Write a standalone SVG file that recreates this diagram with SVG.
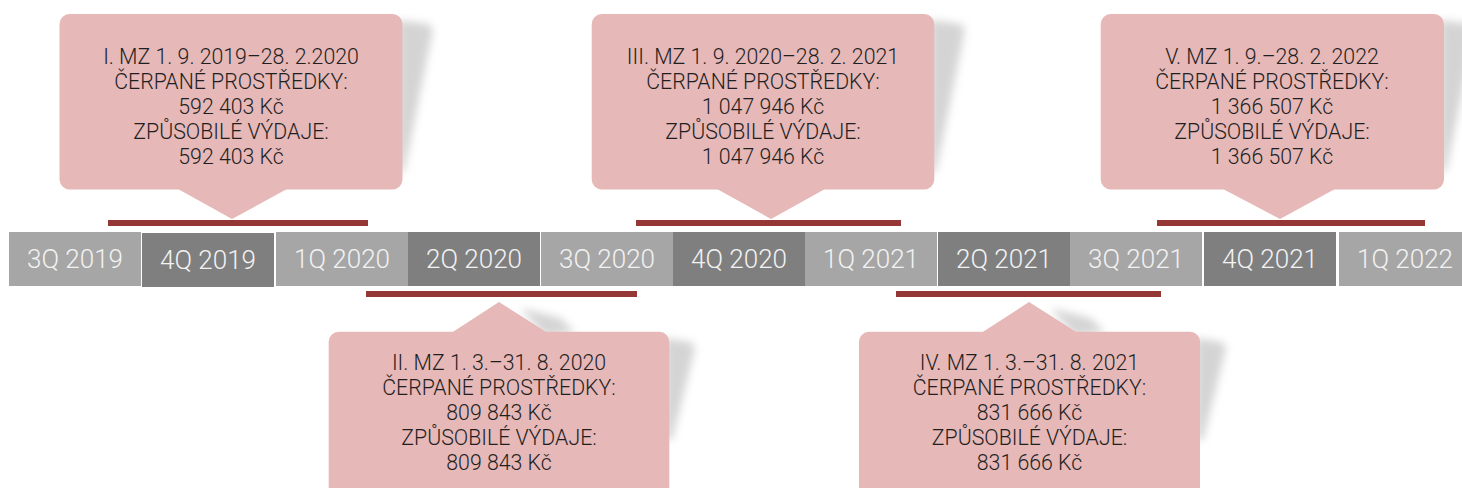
<svg xmlns="http://www.w3.org/2000/svg" width="1462" height="488" viewBox="0 0 1462 488">
<defs>
<style>
.bg{fill:#ffffff}
.q-light{fill:#a6a6a6}
.q-dark{fill:#7f7f7f}
.qt{font-family:Roboto,"Liberation Sans",sans-serif;font-weight:300;font-size:26px;fill:#f2f2f2;text-anchor:middle}
.bar{fill:#953735}
.call{fill:#e6b8b7}
.shadow{fill:#d4d4d4;filter:url(#blur)}
.ct{font-family:Roboto,"Liberation Sans",sans-serif;font-weight:300;font-size:21.3px;fill:#1f1f1f;text-anchor:middle}
</style>
<filter id="blur" x="-50%" y="-50%" width="200%" height="200%"><feGaussianBlur stdDeviation="4"/></filter>
</defs>
<rect class="bg" x="0" y="0" width="1462" height="488"/>

<g id="timeline">
<g id="q-3Q2019"><rect class="q-light" x="9" y="232" width="132" height="54"/><text class="qt" x="75" y="268">3Q 2019</text></g>
<g id="q-4Q2019"><rect class="q-dark" x="142" y="233" width="132" height="54"/><text class="qt" x="208" y="269">4Q 2019</text></g>
<g id="q-1Q2020"><rect class="q-light" x="276" y="232" width="132" height="54"/><text class="qt" x="342" y="268">1Q 2020</text></g>
<g id="q-2Q2020"><rect class="q-dark" x="408" y="232" width="132" height="54"/><text class="qt" x="474" y="268">2Q 2020</text></g>
<g id="q-3Q2020"><rect class="q-light" x="541" y="232" width="132" height="54"/><text class="qt" x="607" y="268">3Q 2020</text></g>
<g id="q-4Q2020"><rect class="q-dark" x="673" y="232" width="132" height="54"/><text class="qt" x="739" y="268">4Q 2020</text></g>
<g id="q-1Q2021"><rect class="q-light" x="805" y="232" width="132" height="54"/><text class="qt" x="871" y="268">1Q 2021</text></g>
<g id="q-2Q2021"><rect class="q-dark" x="938" y="232" width="132" height="54"/><text class="qt" x="1004" y="268">2Q 2021</text></g>
<g id="q-3Q2021"><rect class="q-light" x="1070" y="232" width="132" height="54"/><text class="qt" x="1136" y="268">3Q 2021</text></g>
<g id="q-4Q2021"><rect class="q-dark" x="1204" y="232" width="132" height="54"/><text class="qt" x="1270" y="268">4Q 2021</text></g>
<g id="q-1Q2022"><rect class="q-light" x="1339" y="232" width="132" height="54"/><text class="qt" x="1405" y="268">1Q 2022</text></g>
</g>

<g id="connectors">
<rect class="bar" x="108" y="220" width="260" height="6"/>
<rect class="bar" x="366" y="291" width="271" height="6"/>
<rect class="bar" x="636" y="220" width="265" height="6"/>
<rect class="bar" x="896" y="291" width="265" height="6"/>
<rect class="bar" x="1157" y="220" width="268" height="6"/>
</g>

<g id="callout-1">
<path class="shadow" d="M398,20 L428,24 Q434,26 432,34 L404,172 L398,172 Z"/>
<rect class="call" x="59.5" y="14" width="343" height="175.5" rx="10"/>
<polygon class="call" points="178,189 287,189 232,219"/>
<text class="ct" x="231" y="63.5">I. MZ 1. 9. 2019–28. 2.2020</text>
<text class="ct" x="231" y="88.5">ČERPANÉ PROSTŘEDKY:</text>
<text class="ct" x="231" y="113.5">592 403 Kč</text>
<text class="ct" x="231" y="138.5">ZPŮSOBILÉ VÝDAJE:</text>
<text class="ct" x="231" y="163.5">592 403 Kč</text>
</g>

<g id="callout-3">
<path class="shadow" d="M930,20 L960,24 Q966,26 964,34 L936,172 L930,172 Z"/>
<rect class="call" x="591.7" y="14" width="342.6" height="175.5" rx="10"/>
<polygon class="call" points="717,189 825,189 771,219"/>
<text class="ct" x="763" y="63.5">III. MZ 1. 9. 2020–28. 2. 2021</text>
<text class="ct" x="763" y="88.5">ČERPANÉ PROSTŘEDKY:</text>
<text class="ct" x="763" y="113.5">1 047 946 Kč</text>
<text class="ct" x="763" y="138.5">ZPŮSOBILÉ VÝDAJE:</text>
<text class="ct" x="763" y="163.5">1 047 946 Kč</text>
</g>

<g id="callout-5">
<path class="shadow" d="M1440,20 L1470,24 Q1476,26 1474,34 L1446,172 L1440,172 Z"/>
<rect class="call" x="1100.7" y="14" width="343.3" height="175.5" rx="10"/>
<polygon class="call" points="1223,189 1335,189 1280,219"/>
<text class="ct" x="1272" y="63.5">V. MZ 1. 9.–28. 2. 2022</text>
<text class="ct" x="1272" y="88.5">ČERPANÉ PROSTŘEDKY:</text>
<text class="ct" x="1272" y="113.5">1 366 507 Kč</text>
<text class="ct" x="1272" y="138.5">ZPŮSOBILÉ VÝDAJE:</text>
<text class="ct" x="1272" y="163.5">1 366 507 Kč</text>
</g>

<g id="callout-2">
<path class="shadow" d="M520,308 L560,318 L575,332 L545,336 Z"/>
<path class="shadow" d="M665,338 L690,342 Q696,344 694,352 L672,440 L665,440 Z"/>
<rect class="call" x="328.7" y="331.7" width="340.6" height="170" rx="10"/>
<polygon class="call" points="452,332.5 547,332.5 499,302"/>
<text class="ct" x="499" y="369.5">II. MZ 1. 3.–31. 8. 2020</text>
<text class="ct" x="499" y="394.5">ČERPANÉ PROSTŘEDKY:</text>
<text class="ct" x="499" y="419.5">809 843 Kč</text>
<text class="ct" x="499" y="444.5">ZPŮSOBILÉ VÝDAJE:</text>
<text class="ct" x="499" y="469.5">809 843 Kč</text>
</g>

<g id="callout-4">
<path class="shadow" d="M1050,308 L1090,318 L1105,332 L1075,336 Z"/>
<path class="shadow" d="M1196,338 L1221,342 Q1227,344 1225,352 L1203,440 L1196,440 Z"/>
<rect class="call" x="859" y="331.7" width="341" height="170" rx="10"/>
<polygon class="call" points="982,332.5 1077,332.5 1029,302"/>
<text class="ct" x="1029.5" y="369.5">IV. MZ 1. 3.–31. 8. 2021</text>
<text class="ct" x="1029.5" y="394.5">ČERPANÉ PROSTŘEDKY:</text>
<text class="ct" x="1029.5" y="419.5">831 666 Kč</text>
<text class="ct" x="1029.5" y="444.5">ZPŮSOBILÉ VÝDAJE:</text>
<text class="ct" x="1029.5" y="469.5">831 666 Kč</text>
</g>
</svg>
